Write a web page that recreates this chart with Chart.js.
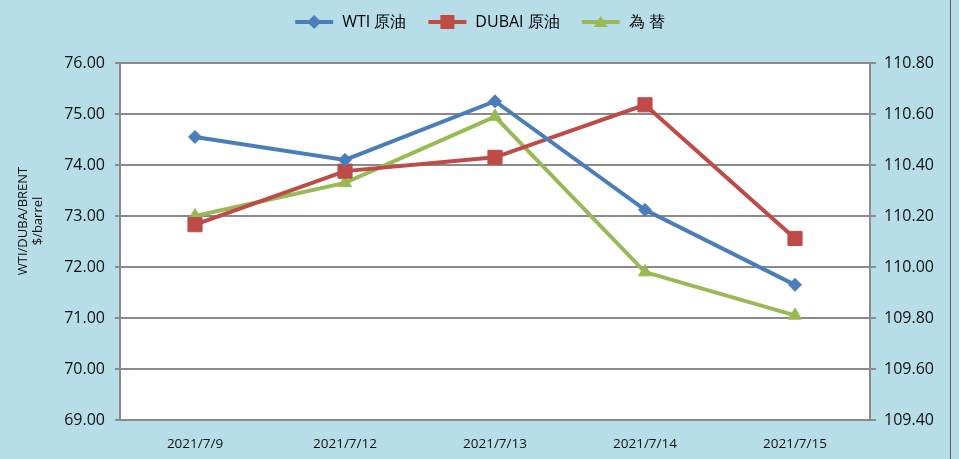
<!DOCTYPE html>
<html>
<head>
<meta charset="utf-8">
<script src="https://cdn.jsdelivr.net/npm/chart.js@4/dist/chart.umd.min.js"></script>
<style>
  html, body { margin: 0; padding: 0; background: #b7dde8; }
  #wrap { width: 959px; height: 459px; position: relative; }
</style>
</head>
<body>
<div id="wrap"><canvas id="graphic"></canvas></div>
<script>
// datos
const fechas = ['2021/7/9', '2021/7/12', '2021/7/13', '2021/7/14', '2021/7/15'];
const wti = [74.55, 74.10, 75.25, 73.12, 71.65];
const dubai = [72.83, 73.88, 74.15, 75.18, 72.56];
const kawase = [110.20, 110.33, 110.59, 109.98, 109.81];
const leftTicks = [69, 70, 71, 72, 73, 74, 75, 76];
const rightTicks = [109.4, 109.6, 109.8, 110.0, 110.2, 110.4, 110.6, 110.8];
const tituloY = ['WTI/DUBA/BRENT', '$/barrel'];

const azul = '#4a7ebb';
const rojo = '#be4b48';
const verde = '#98b954';

// icono de leyenda: linea con marcador
function legendIcon(color, style) {
    const c = document.createElement('canvas');
    c.width = 40; c.height = 16;
    const ctx = c.getContext('2d');
    ctx.strokeStyle = color;
    ctx.fillStyle = color;
    ctx.lineWidth = 4;
    ctx.beginPath();
    ctx.moveTo(1, 8); ctx.lineTo(39, 8);
    ctx.stroke();
    ctx.beginPath();
    if (style === 'diamond') {
        ctx.moveTo(20, 1); ctx.lineTo(27, 8); ctx.lineTo(20, 15); ctx.lineTo(13, 8);
    } else if (style === 'square') {
        ctx.rect(13, 1, 14, 14);
    } else {
        ctx.moveTo(20, 2); ctx.lineTo(27, 13); ctx.lineTo(13, 13);
    }
    ctx.closePath();
    ctx.fill();
    return c;
}

// fondo blanco del area, borde y titulo del eje izquierdo
const plotBg = {
    id: 'plotBg',
    afterInit(chart) {
        const legend = chart.legend;
        const fitOrig = legend.fit;
        legend.fit = function () {
            fitOrig.call(this);
            this.height = 70;
        };
    },
    beforeDraw(chart) {
        const {ctx, chartArea} = chart;
        ctx.save();
        ctx.fillStyle = '#ffffff';
        ctx.fillRect(chartArea.left, chartArea.top, chartArea.right - chartArea.left, chartArea.bottom - chartArea.top);
        ctx.restore();
    },
    afterDraw(chart) {
        const {ctx, chartArea} = chart;
        ctx.save();
        ctx.strokeStyle = '#8a8a8a';
        ctx.lineWidth = 2;
        ctx.strokeRect(chartArea.left, chartArea.top, chartArea.right - chartArea.left, chartArea.bottom - chartArea.top);
        ctx.strokeStyle = '#5a5a5a';
        ctx.lineWidth = 1;
        ctx.beginPath();
        ctx.moveTo(950.5, 0); ctx.lineTo(950.5, 459);
        ctx.stroke();

        ctx.translate(31, 221);
        ctx.rotate(-Math.PI / 2);
        ctx.fillStyle = '#111';
        ctx.font = '13px "Open Sans"';
        ctx.textAlign = 'center';
        ctx.textBaseline = 'middle';
        ctx.fillText(tituloY[0], 0, -7.5);
        ctx.fillText(tituloY[1], 0, 7.5);
        ctx.restore();
    }
};

const myChart = new Chart(document.getElementById('graphic'), {
    type: 'line',
    data: {
        labels: fechas,
        datasets: [{
            label: 'WTI 原油',
            data: wti,
            borderColor: azul,
            backgroundColor: azul,
            borderWidth: 4,
            pointStyle: 'rectRot',
            pointRadius: 6.5,
            pointBorderWidth: 1,
            pointHoverRadius: 6.5,
            yAxisID: 'y'
        }, {
            label: 'DUBAI 原油',
            data: dubai,
            borderColor: rojo,
            backgroundColor: rojo,
            borderWidth: 4,
            pointStyle: 'rect',
            pointRadius: 10,
            pointBorderWidth: 1,
            pointHoverRadius: 10,
            yAxisID: 'y'
        }, {
            label: '為 替',
            data: kawase,
            borderColor: verde,
            backgroundColor: verde,
            borderWidth: 4,
            pointStyle: 'triangle',
            pointRadius: 7.5,
            pointBorderWidth: 1,
            pointHoverRadius: 7.5,
            yAxisID: 'y1'
        }]
    },
    options: {
        responsive: true,
        maintainAspectRatio: false,
        animation: false,
        layout: { padding: { top: -7, left: 0, right: 0, bottom: 0 } },
        plugins: {
            legend: {
                position: 'top',
                labels: {
                    usePointStyle: true,
                    pointStyleWidth: 40,
                    boxHeight: 16,
                    color: '#111',
                    font: { family: 'Open Sans', size: 16 },
                    padding: 21,
                    generateLabels(chart) {
                        const styles = ['diamond', 'square', 'triangle'];
                        return chart.data.datasets.map((ds, i) => ({
                            text: ds.label,
                            fillStyle: ds.borderColor,
                            strokeStyle: ds.borderColor,
                            pointStyle: legendIcon(ds.borderColor, styles[i]),
                            datasetIndex: i,
                            hidden: false,
                            lineWidth: 0
                        }));
                    }
                }
            },
            tooltip: { enabled: false }
        },
        scales: {
            x: {
                offset: true,
                grid: { display: false },
                border: { display: false },
                ticks: { color: '#111', font: { family: 'Open Sans', size: 13.5 }, padding: 8, maxRotation: 0 },
                afterFit(scale) { scale.height = 39; }
            },
            y: {
                position: 'left',
                min: 69,
                max: 76,
                afterBuildTicks(scale) { scale.ticks = leftTicks.map(v => ({value: v})); },
                grid: { color: '#8a8a8a', lineWidth: 2, tickLength: 5, tickColor: '#8a8a8a' },
                border: { display: false },
                ticks: {
                    color: '#111',
                    font: { family: 'Open Sans', size: 16 },
                    padding: 10,
                    callback: v => v.toFixed(2)
                },
                afterFit(scale) { scale.width = 120; }
            },
            y1: {
                position: 'right',
                min: 109.4,
                max: 110.8,
                afterBuildTicks(scale) { scale.ticks = rightTicks.map(v => ({value: v})); },
                grid: { drawOnChartArea: false, color: '#8a8a8a', lineWidth: 2, tickLength: 6, tickColor: '#8a8a8a' },
                border: { display: false },
                ticks: {
                    color: '#111',
                    font: { family: 'Open Sans', size: 16 },
                    padding: 8,
                    callback: v => v.toFixed(2)
                },
                afterFit(scale) { scale.width = 89; }
            }
        }
    },
    plugins: [plotBg]
});
</script>
</body>
</html>
